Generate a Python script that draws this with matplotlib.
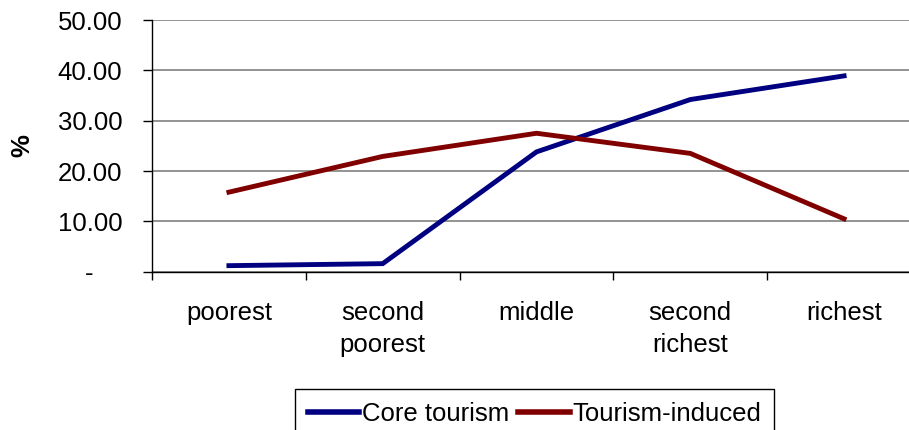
import matplotlib
matplotlib.use("Agg")
import matplotlib.pyplot as plt

categories = ["poorest", "second\npoorest", "middle", "second\nrichest", "richest"]
core_tourism = [1.2, 1.6, 23.8, 34.2, 38.9]
tourism_induced = [15.8, 22.9, 27.5, 23.5, 10.5]
y_ticks = [0, 10, 20, 30, 40, 50]
y_tick_labels = ["-    ", "10.00", "20.00", "30.00", "40.00", "50.00"]

plt.rcParams["font.family"] = ["Liberation Sans", "DejaVu Sans"]
fs = 18.5

fig = plt.figure(figsize=(9.09, 4.30), dpi=100)
# plot area runs past the right edge of the picture, as in the original
ax = fig.add_axes([152 / 909, 1 - 271.7 / 430, (921 - 152) / 909, (271.7 - 20) / 430])

x = range(len(categories))
ax.plot(x, core_tourism, color="#000080", lw=3.5, label="Core tourism", solid_joinstyle="miter")
ax.plot(x, tourism_induced, color="#800000", lw=3.5, label="Tourism-induced", solid_joinstyle="miter")

ax.set_xlim(-0.5, len(categories) - 0.5)
ax.set_ylim(0, 50)
ax.set_yticks(y_ticks)
ax.set_yticklabels(y_tick_labels, fontsize=fs)
ax.yaxis.grid(True, color="#808080", lw=1.2)
ax.set_axisbelow(True)

# tick marks between categories, labels centred on categories
ax.set_xticks([i - 0.5 for i in range(len(categories) + 1)])
ax.set_xticklabels([])
ax.set_xticks(list(x), minor=True)
ax.set_xticklabels(categories, minor=True, fontsize=fs, va="top", linespacing=1.42)
ax.tick_params(axis="x", which="major", direction="out", length=6, width=1, color="black")
ax.tick_params(axis="x", which="minor", length=0, pad=21)
ax.tick_params(axis="y", direction="out", length=6.5, width=1, pad=15)

for side in ["top", "right"]:
    ax.spines[side].set_visible(False)
ax.spines["left"].set_color("black")
ax.spines["bottom"].set_color("black")
ax.spines["left"].set_linewidth(1)
ax.spines["bottom"].set_linewidth(1)

fig.text(22 / 909, 1 - 146 / 430, "%", rotation=90, fontsize=fs, fontweight="bold",
         ha="center", va="center")

leg = fig.legend(loc="upper center", bbox_to_anchor=(534.5 / 909, 1 - 389 / 430), ncol=2,
                 fontsize=fs, frameon=True, fancybox=False, framealpha=1, edgecolor="black",
                 handlelength=2.0, handletextpad=0.1, columnspacing=0.35, borderpad=0.5,
                 borderaxespad=0)
leg.get_frame().set_linewidth(1)
for line in leg.get_lines():
    line.set_linewidth(4)

fig.savefig("out.png", dpi=100)
